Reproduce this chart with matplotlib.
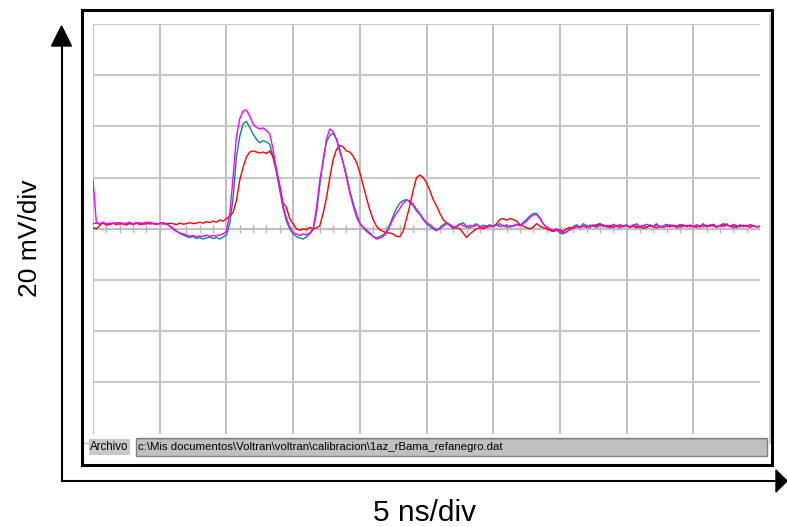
import numpy as np
import matplotlib
matplotlib.use("Agg")
import matplotlib.pyplot as plt
from matplotlib.patches import Rectangle, Polygon

# ---------------- data (time in divisions, amplitude in divisions) ----------------
time_step = 0.05
magenta = [
    0.96, 0.12, 0.10, 0.13, 0.09, 0.11, 0.10, 0.12, 0.08, 0.11, 0.10, 0.13, 0.09, 0.10, 0.12, 0.08, 0.11, 0.13, 0.10, 0.09,
    0.10, 0.12, 0.09, 0.05, 0.00, -0.05, -0.08, -0.10, -0.12, -0.15, -0.13, -0.16, -0.14, -0.15, -0.12, -0.15, -0.13, -0.14, -0.12, -0.10,
    -0.05, 0.30, 1.00, 1.80, 2.15, 2.30, 2.32, 2.20, 2.05, 1.98, 1.95, 1.97, 1.92, 1.85, 1.55, 1.15, 0.80, 0.45, 0.20, 0.04,
    -0.08, -0.10, -0.13, -0.10, -0.12, -0.08, 0.00, 0.40, 0.95, 1.30, 1.75, 1.95, 1.90, 1.75, 1.50, 1.29, 1.00, 0.70, 0.45, 0.23,
    0.10, 0.03, -0.02, -0.08, -0.15, -0.20, -0.18, -0.15, -0.08, 0.05, 0.20, 0.30, 0.40, 0.50, 0.56, 0.55, 0.48, 0.38, 0.30, 0.20,
    0.12, 0.08, 0.03, -0.02, 0.00, 0.05, 0.10, 0.08, 0.02, 0.05, 0.10, 0.06, 0.03, 0.07, 0.04, 0.08, 0.05, 0.02, 0.06, 0.04,
    0.05, 0.08, 0.04, 0.07, 0.03, 0.06, 0.05, 0.08, 0.06, 0.10, 0.15, 0.22, 0.27, 0.28, 0.20, 0.10, 0.03, 0.00, -0.03, 0.00,
    -0.05, -0.08, -0.06, -0.02, 0.02, 0.05, 0.03, 0.06, 0.04, 0.07, 0.05, 0.03, 0.06, 0.08, 0.04, 0.02, 0.05, 0.07, 0.03, 0.05,
    0.06, 0.04, 0.08, 0.05, 0.03, 0.06, 0.09, 0.05, 0.04, 0.07, 0.05, 0.03, 0.06, 0.08, 0.04, 0.06, 0.03, 0.05, 0.07, 0.04,
    0.05, 0.07, 0.03, 0.06, 0.04, 0.08, 0.05, 0.03, 0.06, 0.04, 0.07, 0.05, 0.02, 0.05, 0.07, 0.04, 0.06, 0.03, 0.05, 0.04,
    0.04,
]
teal = [
    0.10, 0.11, 0.09, 0.12, 0.10, 0.08, 0.11, 0.10, 0.12, 0.09, 0.11, 0.10, 0.08, 0.12, 0.10, 0.11, 0.09, 0.12, 0.10, 0.08,
    0.11, 0.09, 0.10, 0.06, 0.01, -0.04, -0.09, -0.12, -0.15, -0.17, -0.15, -0.19, -0.17, -0.20, -0.18, -0.16, -0.19, -0.17, -0.20, -0.16,
    -0.12, 0.10, 0.60, 1.40, 1.80, 2.05, 2.10, 1.98, 1.85, 1.75, 1.68, 1.72, 1.70, 1.65, 1.40, 1.10, 0.75, 0.40, 0.15, 0.00,
    -0.10, -0.15, -0.18, -0.20, -0.16, -0.10, -0.02, 0.30, 0.85, 1.35, 1.70, 1.82, 1.87, 1.75, 1.55, 1.30, 1.05, 0.75, 0.50, 0.30,
    0.12, 0.02, -0.05, -0.10, -0.15, -0.18, -0.15, -0.12, -0.05, 0.08, 0.25, 0.40, 0.50, 0.55, 0.57, 0.52, 0.45, 0.35, 0.28, 0.18,
    0.10, 0.05, 0.00, -0.04, 0.02, 0.08, 0.12, 0.06, 0.00, 0.04, 0.08, 0.12, 0.05, 0.02, 0.06, 0.10, 0.03, 0.07, 0.05, 0.08,
    0.04, 0.07, 0.10, 0.05, 0.08, 0.03, 0.06, 0.09, 0.07, 0.12, 0.18, 0.25, 0.30, 0.30, 0.22, 0.10, 0.02, -0.03, -0.05, -0.02,
    -0.08, -0.10, -0.06, 0.00, 0.04, 0.08, 0.03, 0.10, 0.06, 0.02, 0.08, 0.05, 0.10, 0.04, 0.07, 0.03, 0.09, 0.05, 0.02, 0.06,
    0.08, 0.03, 0.06, 0.10, 0.04, 0.07, 0.02, 0.08, 0.05, 0.10, 0.03, 0.06, 0.09, 0.04, 0.07, 0.02, 0.06, 0.08, 0.04, 0.07,
    0.03, 0.08, 0.05, 0.10, 0.04, 0.06, 0.09, 0.03, 0.07, 0.05, 0.10, 0.04, 0.06, 0.02, 0.08, 0.05, 0.07, 0.03, 0.06, 0.04,
    0.05,
]
red = [
    0.02, 0.00, 0.06, 0.12, 0.07, 0.09, 0.11, 0.08, 0.12, 0.10, 0.07, 0.11, 0.09, 0.12, 0.08, 0.10, 0.13, 0.09, 0.11, 0.10,
    0.10, 0.12, 0.09, 0.11, 0.10, 0.08, 0.11, 0.09, 0.10, 0.12, 0.10, 0.11, 0.13, 0.11, 0.14, 0.12, 0.15, 0.13, 0.17, 0.15,
    0.20, 0.25, 0.32, 0.55, 0.95, 1.20, 1.40, 1.50, 1.52, 1.50, 1.48, 1.50, 1.47, 1.52, 1.40, 1.15, 0.85, 0.50, 0.42, 0.20,
    0.10, 0.00, -0.03, 0.00, -0.02, 0.03, 0.00, 0.02, 0.06, 0.30, 0.60, 1.00, 1.35, 1.55, 1.63, 1.60, 1.52, 1.50, 1.42, 1.30,
    1.10, 0.85, 0.60, 0.37, 0.18, 0.05, -0.02, -0.05, -0.08, -0.08, -0.10, -0.15, -0.15, -0.05, 0.20, 0.45, 0.75, 1.00, 1.05, 1.00,
    0.90, 0.75, 0.57, 0.45, 0.30, 0.18, 0.12, 0.08, 0.04, 0.02, 0.00, -0.08, -0.17, -0.10, -0.05, 0.00, 0.02, 0.00, 0.03, 0.05,
    0.05, 0.10, 0.18, 0.20, 0.17, 0.20, 0.18, 0.15, 0.08, 0.05, 0.02, 0.00, 0.03, 0.10, 0.05, 0.02, 0.00, -0.03, -0.05, -0.03,
    -0.02, -0.05, 0.00, 0.03, 0.01, 0.04, 0.02, 0.05, 0.03, 0.07, 0.05, 0.08, 0.10, 0.06, 0.04, 0.07, 0.03, 0.05, 0.08, 0.04,
    0.06, 0.03, 0.05, 0.02, 0.04, 0.01, 0.03, 0.06, 0.04, 0.02, 0.05, 0.03, 0.06, 0.04, 0.07, 0.05, 0.08, 0.06, 0.04, 0.07,
    0.05, 0.03, 0.06, 0.04, 0.07, 0.05, 0.08, 0.04, 0.06, 0.10, 0.07, 0.05, 0.08, 0.06, 0.04, 0.07, 0.05, 0.08, 0.06, 0.04,
    0.05,
]
x_label = "5 ns/div"
y_label = "20 mV/div"
file_label = "Archivo"
file_path = "c:\\Mis documentos\\Voltran\\voltran\\calibracion\\1az_rBama_refanegro.dat"

t = np.arange(len(magenta)) * time_step

# ---------------- figure ----------------
W, H = 787, 527
fig = plt.figure(figsize=(W / 100, H / 100), dpi=100)
plt.rcParams['font.family'] = ['Liberation Sans', 'DejaVu Sans']

# overlay in pixel coordinates for decorations
deco = fig.add_axes([0, 0, 1, 1])
deco.set_xlim(0, W)
deco.set_ylim(H, 0)
deco.axis('off')

# main plot area (grid region)
gx0, gx1, gy0, gy1 = 93, 760, 24, 433.6
ax = fig.add_axes([gx0 / W, (H - gy1) / H, (gx1 - gx0) / W, (gy1 - gy0) / H])
ax.set_xlim(0, 10)
ax.set_ylim(-4, 4)
for s in ax.spines.values():
    s.set_visible(False)
ax.set_xticks([])
ax.set_yticks([])
ax.patch.set_alpha(0)

# grid
for gx in range(0, 10):
    ax.axvline(gx, color='#b4b4b4', lw=1.2, zorder=1)
for gy in range(-3, 5):
    ax.axhline(gy, color='#c8c8c8', lw=1.5, zorder=1)
ax.axhline(0, color='#c0c0c0', lw=1.5, zorder=1)
minor = np.arange(0.2, 10, 0.2)
ax.vlines(minor, -0.08, 0.08, color='#b8b8b8', lw=1.0, zorder=1)

# traces
ax.plot(t, teal, color='#008b8b', lw=1.0, zorder=3)
ax.plot(t, red, color='#ff0000', lw=1.0, zorder=4)
ax.plot(t, magenta, color='#ff00ff', lw=1.0, zorder=5)

# frame
deco.add_patch(Rectangle((82, 9.5), 690, 455, fill=False, ec='black', lw=2.2, zorder=2))
deco.plot([769.5, 769.5], [15, 443], color='#c4c4c4', lw=1.2)

# file bar
deco.plot([84, 89], [442.5, 442.5], color='#c0c0c0', lw=1.0)
deco.add_patch(Rectangle((89, 439), 41, 15.5, fc='#c8c8c8', ec='none'))
deco.text(90, 447.5, file_label, fontsize=8.3, va='center', ha='left', color='black')
deco.add_patch(Rectangle((135.5, 437.5), 631, 18.5, fc='#c0c0c0', ec='#808080', lw=1.0))
deco.plot([137, 765], [439, 439], color='#a0a0a0', lw=0.8)
deco.text(137.5, 447.5, file_path, fontsize=8.2, va='center', ha='left', color='black')

# axis arrows
deco.plot([61.5, 61.5], [481, 44], color='black', lw=1.5)
deco.add_patch(Polygon([[61.5, 26], [51.5, 46], [71.5, 46]], closed=True, fc='black', ec='black'))
deco.plot([61.5, 778], [481, 481], color='black', lw=1.5)
deco.add_patch(Polygon([[787, 481], [776, 470], [776, 492]], closed=True, fc='black', ec='black'))

# labels
deco.text(30, 238, y_label, rotation=90, fontsize=19, va='center', ha='center')
deco.text(425, 513, x_label, fontsize=21.5, va='center', ha='center')

fig.savefig('out.png', dpi=100)
